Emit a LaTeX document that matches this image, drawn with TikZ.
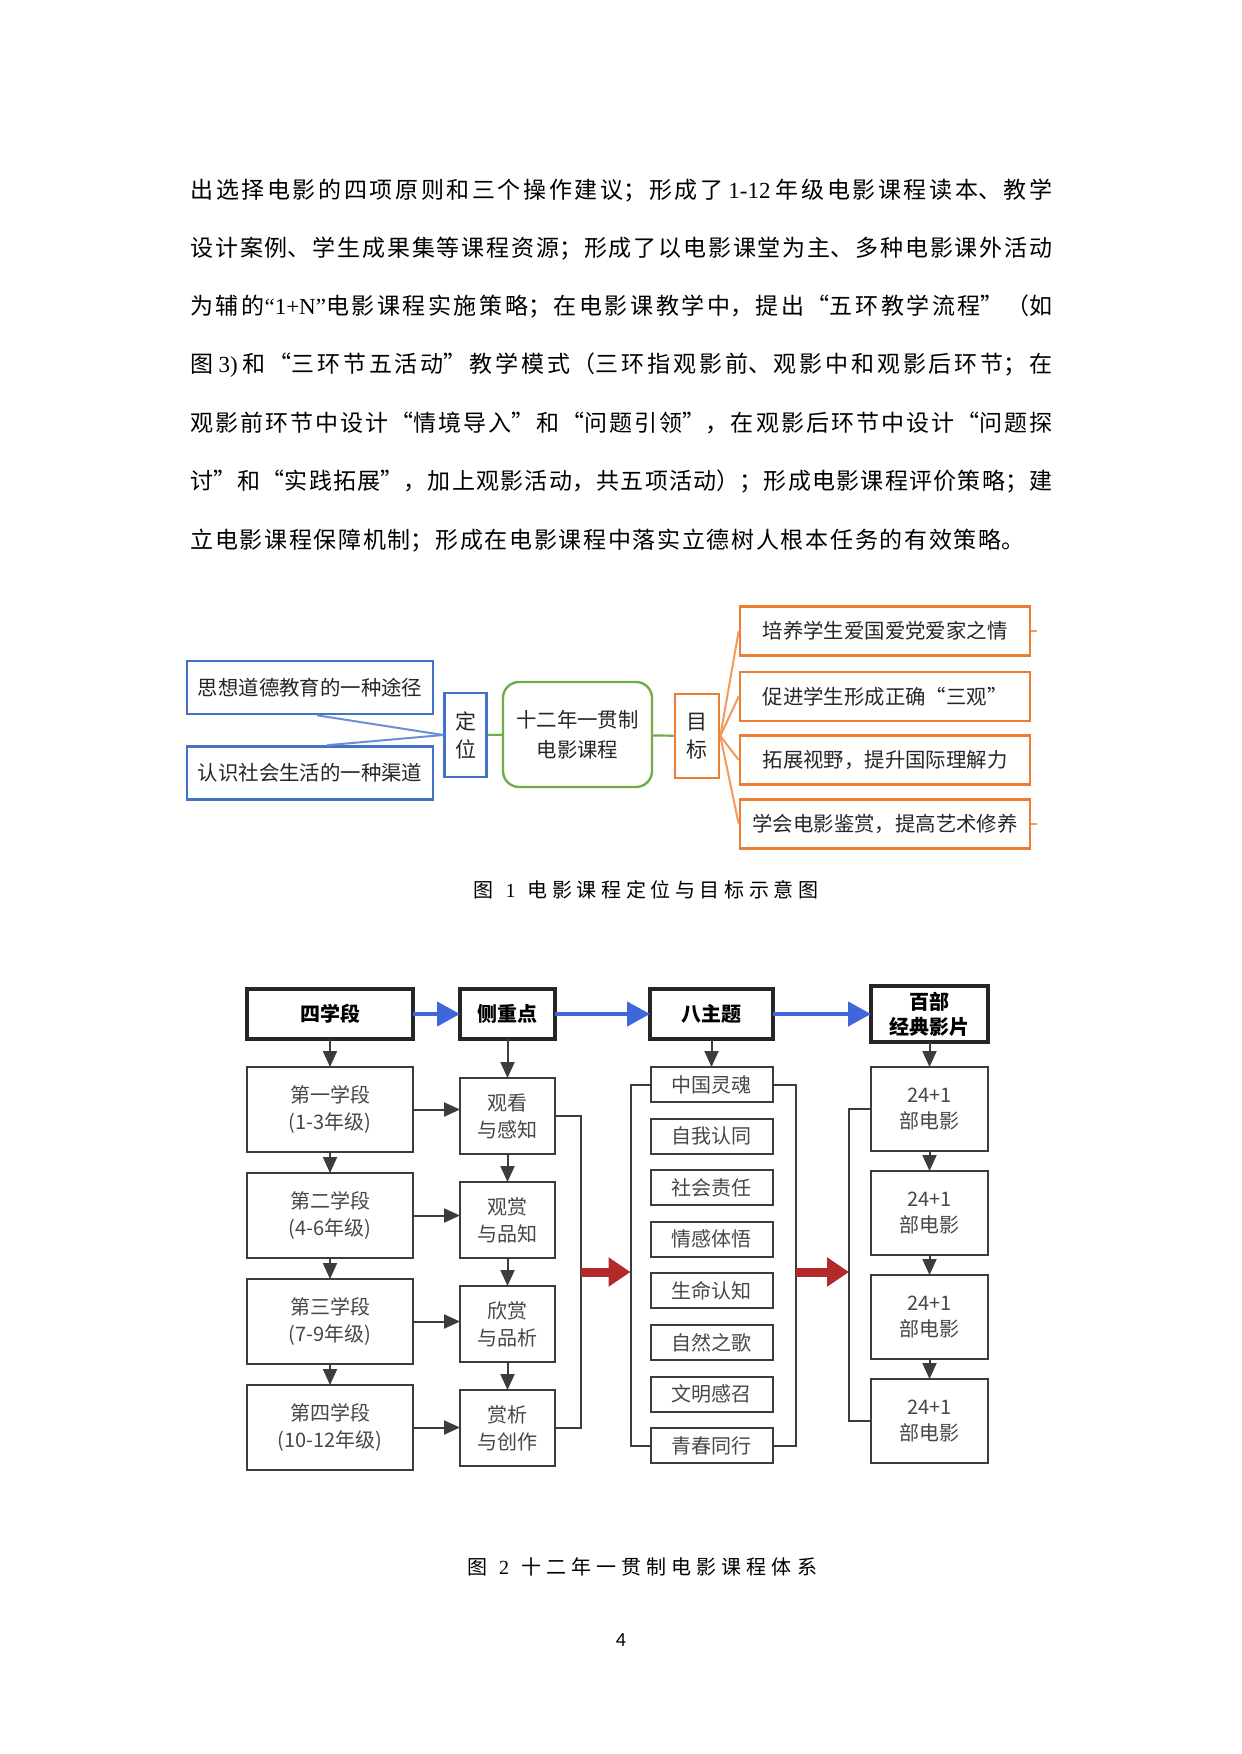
\documentclass[tikz,border=0pt]{standalone}
\usepackage{fontspec}
\usepackage{xcolor}
\setmainfont{Liberation Serif}
\newfontfamily\cjk{Noto Sans CJK SC}
\newfontfamily\pagefont{Carlito}
\usetikzlibrary{arrows.meta,positioning,calc}

\definecolor{blbord}{HTML}{4472C4}
\definecolor{blline}{HTML}{6A8FD4}
\definecolor{orbord}{HTML}{ED7D31}
\definecolor{orline}{HTML}{F09A5C}
\definecolor{grbord}{HTML}{70AD47}
\definecolor{bluearr}{HTML}{3F67D9}
\definecolor{redarr}{HTML}{B22A2A}
\definecolor{boxgray}{HTML}{3C3C3C}
\definecolor{txtgray}{HTML}{474747}

% one line of text spread to a given width
\newcommand{\spreadline}[2]{\parbox{#1}{\XeTeXlinebreaklocale "zh"\XeTeXlinebreakskip=0pt plus 1fil\relax
  \parfillskip=0pt\relax\cjk #2\par}}
\newcommand{\lat}[1]{{\rmfamily #1}}

\begin{document}
\begin{tikzpicture}[x=0.5pt, y=-0.5pt, font=\cjk\fontsize{10.2}{15}\selectfont,
  textline/.style={anchor=west, inner sep=0pt, font=\cjk\fontsize{11.5}{14}\selectfont},
  bluebox/.style={draw=blbord, line width=1.3pt, minimum width=123pt, minimum height=26.5pt, inner sep=0pt, text=black!85},
  orbox/.style={draw=orbord, line width=1.3pt, minimum width=145pt, minimum height=24.5pt, inner sep=0pt, text=black!85},
  tagbox/.style={line width=1.3pt, minimum width=21pt, minimum height=42pt, inner sep=0pt, align=center, font=\cjk\fontsize{10.5}{14}\selectfont, text=black!85},
  corebox/.style={draw=grbord, line width=1.2pt, rounded corners=8pt, minimum width=74.5pt, minimum height=52.5pt, align=center, font=\cjk\fontsize{10.2}{15}\selectfont, text=black!85},
  headbox/.style={draw=black!85, line width=2pt, outer sep=0pt, minimum height=25pt, inner sep=0pt, align=center, font=\cjk\bfseries\fontsize{10}{12.5}\selectfont},
  stagebox/.style={draw=boxgray, line width=1pt, outer sep=0pt, minimum width=83pt, minimum height=42.5pt, inner sep=0pt, align=center, text=txtgray, font=\cjk\fontsize{10}{13.5}\selectfont},
  focusbox/.style={draw=boxgray, line width=1pt, outer sep=0pt, minimum width=47.5pt, minimum height=38pt, inner sep=0pt, align=center, text=txtgray, font=\cjk\fontsize{10}{13.5}\selectfont},
  themebox/.style={draw=boxgray, line width=1pt, outer sep=0pt, minimum width=61pt, minimum height=17.5pt, inner sep=0pt, text=txtgray, font=\cjk\fontsize{10}{12}\selectfont},
  filmbox/.style={draw=boxgray, line width=1pt, outer sep=0pt, minimum width=58.5pt, minimum height=42pt, inner sep=0pt, align=center, text=txtgray, font=\cjk\fontsize{10}{13}\selectfont},
  blkarr/.style={-{Triangle[width=7pt,length=8pt]}, line width=1pt, draw=boxgray},
  bluearrow/.style={-{Triangle[width=12pt,length=11.5pt]}, line width=2.2pt, draw=bluearr},
  redarrow/.style={-{Triangle[width=14pt,length=11pt]}, line width=4.5pt, draw=redarr},
  brk/.style={line width=1pt, draw=boxgray}]
\fill[white] (0,0) rectangle (1241,1754);

% body text
\node[textline] (l1) at (190,190.2) {\spreadline{431pt}{出选择电影的四项原则和三个操作建议；形成了 \lat{1-12} 年级电影课程读本、教学}};
\node[textline] (l2) at (190,248.4) {\spreadline{431pt}{设计案例、学生成果集等课程资源；形成了以电影课堂为主、多种电影课外活动}};
\node[textline] (l3) at (190,306.6) {\spreadline{431pt}{为辅的\lat{“1+N”}电影课程实施策略；在电影课教学中，提出“五环教学流程”（如}};
\node[textline] (l4) at (190,364.8) {\spreadline{431pt}{图 \lat{3)} 和“三环节五活动”教学模式（三环指观影前、观影中和观影后环节；在}};
\node[textline] (l5) at (190,423.0) {\spreadline{431pt}{观影前环节中设计“情境导入”和“问题引领”，在观影后环节中设计“问题探}};
\node[textline] (l6) at (190,481.2) {\spreadline{431pt}{讨”和“实践拓展”，加上观影活动，共五项活动）；形成电影课程评价策略；建}};
\node[textline] (l7) at (190,540.5) {\spreadline{417pt}{立电影课程保障机制；形成在电影课程中落实立德树人根本任务的有效策略。}};

% figure 1
\node[bluebox] (sx1) at (310,687.5) {思想道德教育的一种途径};
\node[bluebox] (sx2) at (310,773) {认识社会生活的一种渠道};
\node[tagbox, draw=blbord] (dw) at (465.5,735) {定\\位};
\node[corebox] (core) at (577.5,734.5) {十二年一贯制\\电影课程};
\node[tagbox, draw=orbord, minimum width=22pt] (mb) at (697,736) {目\\标};
\node[orbox] (g1) at (885,631) {培养学生爱国爱党爱家之情};
\node[orbox] (g2) at (885,696.5) {促进学生形成正确“三观”};
\node[orbox] (g3) at (885,760) {拓展视野，提升国际理解力};
\node[orbox] (g4) at (885,824) {学会电影鉴赏，提高艺术修养};
\draw[blline, line width=1pt] (dw.west) -- ([xshift=3.5pt]sx1.south);
\draw[blline, line width=1pt] (dw.west) -- ([xshift=8.5pt]sx2.north);
\draw[grbord, line width=1.1pt] (dw) -- (core);
\draw[grbord, line width=1.1pt] (core) -- (mb);
\foreach \g in {g1,g2,g3,g4}
  \draw[orline, line width=1pt] (mb.east) -- (\g.west);
\draw[orline, line width=1pt] (g1.east) -- ++(6,0);
\draw[orline, line width=1pt] (g4.east) -- ++(6,0);
\node (cap1) at (646,890) {\spreadline{172.5pt}{\fontsize{10}{12}\selectfont 图\hspace{6pt}\lat{1}\hspace{6pt}电影课程定位与目标示意图}};

% figure 2
\node[headbox, minimum width=83pt] (h1) at (330,1014) {四学段};
\node[headbox, minimum width=47.5pt] (h2) at (507.5,1014) {侧重点};
\node[headbox, minimum width=61.5pt] (h3) at (711.5,1014) {八主题};
\node[headbox, minimum width=58.5pt, minimum height=28pt] (h4) at (929.5,1014) {百部\\经典影片};
\draw[bluearrow] (h1) -- (h2);
\draw[bluearrow] (h2) -- (h3);
\draw[bluearrow] (h3) -- (h4);

\node[stagebox, below=14pt of h1] (st1) {第一学段\\(1-3年级)};
\node[stagebox, below=10.5pt of st1] (st2) {第二学段\\(4-6年级)};
\node[stagebox, below=10.5pt of st2] (st3) {第三学段\\(7-9年级)};
\node[stagebox, below=10.5pt of st3] (st4) {第四学段\\(10-12年级)};

\node[focusbox, below=19.5pt of h2] (fo1) {观看\\与感知};
\node[focusbox, below=14pt of fo1] (fo2) {观赏\\与品知};
\node[focusbox, below=14pt of fo2] (fo3) {欣赏\\与品析};
\node[focusbox, below=14pt of fo3] (fo4) {赏析\\与创作};

\node[themebox, below=14pt of h3] (th1) {中国灵魂};
\node[themebox, below=8.3pt of th1] (th2) {自我认同};
\node[themebox, below=8.3pt of th2] (th3) {社会责任};
\node[themebox, below=8.3pt of th3] (th4) {情感体悟};
\node[themebox, below=8.3pt of th4] (th5) {生命认知};
\node[themebox, below=8.3pt of th5] (th6) {自然之歌};
\node[themebox, below=8.3pt of th6] (th7) {文明感召};
\node[themebox, below=8.3pt of th7] (th8) {青春同行};

\node[filmbox, below=12.5pt of h4] (f1) {24+1\\部电影};
\node[filmbox, below=10pt of f1] (f2) {24+1\\部电影};
\node[filmbox, below=10pt of f2] (f3) {24+1\\部电影};
\node[filmbox, below=10pt of f3] (f4) {24+1\\部电影};

\draw[blkarr] (h1) -- (st1);
\draw[blkarr] (st1) -- (st2);
\draw[blkarr] (st2) -- (st3);
\draw[blkarr] (st3) -- (st4);
\draw[blkarr] (h2) -- (fo1);
\draw[blkarr] (fo1) -- (fo2);
\draw[blkarr] (fo2) -- (fo3);
\draw[blkarr] (fo3) -- (fo4);
\draw[blkarr] (h3) -- (th1);
\draw[blkarr] (h4) -- (f1);
\draw[blkarr] (f1) -- (f2);
\draw[blkarr] (f2) -- (f3);
\draw[blkarr] (f3) -- (f4);
\foreach \i in {1,2,3,4}
  \draw[blkarr] (st\i.east) -- (st\i.east -| fo\i.west);

% brackets and red arrows
\draw[brk] (fo1.east) -- ++(26,0) coordinate (b1) |- (fo4.east);
\draw[brk] (th1.west) -- ++(-20,0) coordinate (b2) |- (th8.west);
\draw[brk] (th1.east) -- ++(23,0) coordinate (b3) |- (th8.east);
\draw[brk] (f1.west) -- ++(-22,0) coordinate (b4) |- (f4.west);
\coordinate (rmid) at ($(b1)!0.5!(b1 |- fo4.east)$);
\draw[redarrow] (rmid) -- (rmid -| b2);
\draw[redarrow] (rmid -| b3) -- (rmid -| b4);
\node (cap2) at (642,1567) {\spreadline{175pt}{\fontsize{10}{12}\selectfont 图\hspace{6pt}\lat{2}\hspace{6pt}十二年一贯制电影课程体系}};

\node[font=\pagefont\fontsize{10}{12}\selectfont] (pg) at (621,1640) {4};
\end{tikzpicture}
\end{document}
